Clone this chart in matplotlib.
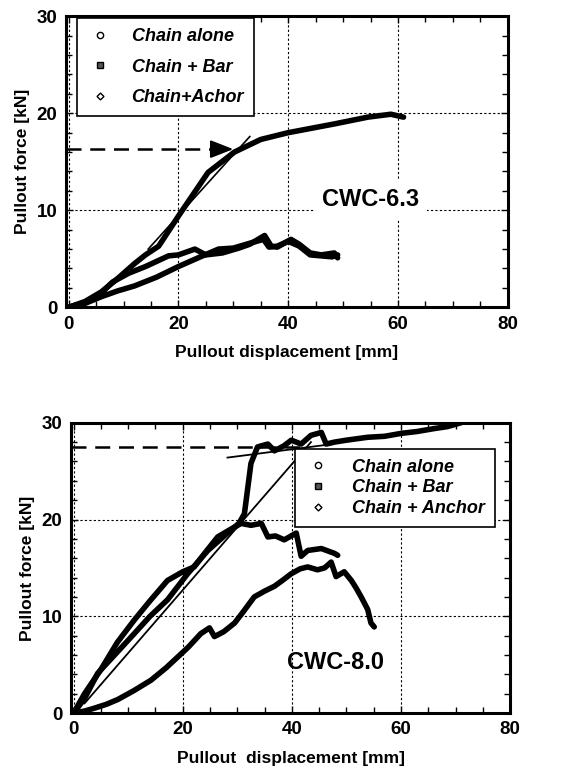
import numpy as np
import matplotlib.pyplot as plt
from matplotlib.lines import Line2D
from matplotlib.ticker import MultipleLocator

plt.rcParams['font.family'] = ['Liberation Sans', 'DejaVu Sans']
plt.rcParams['font.weight'] = 'bold'

# ---- CWC-6.3 (top panel) ----
top_anchor_x = [0, 3, 6, 9, 12, 14, 16.4, 20, 25.4, 30.2, 35, 40, 48.4, 54.5, 58.7, 61]
top_anchor_y = [0, 0.6, 1.6, 3.0, 4.5, 5.4, 6.3, 9.4, 13.9, 16.0, 17.3, 18.0, 18.9, 19.6, 19.9, 19.6]
top_bar_x = [0, 3, 6, 8, 10.9, 14, 18.2, 20, 23, 25, 28, 31, 33, 35.7, 36.9, 38, 40.5, 42, 44, 46, 48.4, 49]
top_bar_y = [0, 0.5, 1.5, 2.6, 3.5, 4.2, 5.3, 5.4, 6.0, 5.4, 5.6, 6.1, 6.5, 7.4, 6.3, 6.2, 7.0, 6.5, 5.6, 5.4, 5.6, 5.1]
top_alone_x = [0, 3, 6, 9, 12, 16, 20, 24, 27.3, 30, 33, 35.5, 36.5, 38, 40, 42, 44, 46, 48, 49]
top_alone_y = [0, 0.4, 1.1, 1.7, 2.2, 3.1, 4.2, 5.2, 6.0, 6.1, 6.6, 7.0, 6.2, 6.3, 6.8, 6.3, 5.4, 5.3, 5.2, 5.4]
top_arrow_y = 16.3
top_arrow_x = 30.5
top_tangent_x = [14.5, 33]
top_tangent_y = [6.0, 17.6]

# ---- CWC-8.0 (bottom panel) ----
bot_anchor_x = [0, 2, 4.4, 8, 11.1, 14, 17.2, 20.9, 24.6, 28.2, 30.3, 31.3, 32.5, 33.7, 35.6, 36.8, 38.5,
                39.9, 41.7, 43.5, 45.4, 46.3, 47.8, 50, 53.9, 57, 60, 63, 66.1, 68.5, 71]
bot_anchor_y = [0, 1.5, 4.1, 6.3, 8.2, 10.0, 11.7, 14.4, 16.8, 18.6, 19.6, 20.6, 25.8, 27.5, 27.8, 27.1, 27.6,
                28.2, 27.8, 28.7, 29.0, 27.8, 28.0, 28.2, 28.5, 28.6, 28.9, 29.1, 29.4, 29.6, 30.0]
bot_bar_x = [0, 2, 5, 8, 11.1, 14, 17.2, 20, 22.1, 24, 26.4, 28.5, 30.7, 32.5, 34.4, 35.6, 37, 38.6, 40.8,
             41.7, 42.9, 45.4, 47.8, 48.4]
bot_bar_y = [0, 2.0, 4.5, 7.3, 9.6, 11.6, 13.7, 14.6, 15.1, 16.5, 18.2, 18.9, 19.6, 19.4, 19.6, 18.2, 18.3,
             17.9, 18.6, 16.2, 16.8, 17.0, 16.5, 16.3]
bot_alone_x = [0, 2, 3.8, 6, 8.1, 11, 14.2, 17, 19.1, 21, 23.3, 24.9, 25.8, 27.5, 29.5, 31, 33.1, 35, 36.8,
               38.5, 39.9, 41.5, 42.9, 44.7, 46, 47.2, 48.1, 49.6, 50.9, 51.8, 52.7, 53.9, 54.5, 55.1]
bot_alone_y = [0, 0.2, 0.5, 0.9, 1.4, 2.3, 3.4, 4.7, 5.8, 6.8, 8.2, 8.8, 7.9, 8.4, 9.3, 10.4, 12.0, 12.6, 13.1,
               13.8, 14.4, 14.9, 15.1, 14.8, 15.0, 15.6, 14.1, 14.6, 13.7, 12.9, 12.0, 10.7, 9.3, 8.9]
bot_dash_y = 27.5
bot_dash_x = 43
bot_tangent1_x = [2, 43.5]
bot_tangent1_y = [1.0, 28.0]
bot_tangent2_x = [28.2, 47.5]
bot_tangent2_y = [26.4, 27.8]

fig = plt.figure(figsize=(5.63, 7.74), dpi=100)
ax1 = fig.add_axes([0.117, 0.603, 0.785, 0.376])
ax2 = fig.add_axes([0.126, 0.0788, 0.780, 0.375])


def style_axes(ax, xlabel):
    ax.set_xlim(-0.5, 80)
    ax.set_ylim(0, 30)
    ax.xaxis.set_major_locator(MultipleLocator(20))
    ax.xaxis.set_minor_locator(MultipleLocator(5))
    ax.yaxis.set_major_locator(MultipleLocator(10))
    ax.yaxis.set_minor_locator(MultipleLocator(2))
    ax.tick_params(which='both', direction='in', top=True, right=True, width=1)
    ax.tick_params(which='major', length=5, labelsize=13.5, pad=6)
    ax.tick_params(which='minor', length=4)
    for sp in ax.spines.values():
        sp.set_linewidth(2.2)
    ax.grid(True, which='major', color='black', linestyle=(0, (2, 2)), linewidth=0.8)
    ax.set_axisbelow(True)
    ax.set_xlabel(xlabel, fontsize=12.5, fontweight='bold', labelpad=9)
    ax.set_ylabel('Pullout force [kN]', fontsize=12.5, fontweight='bold', labelpad=5)


def curve(ax, x, y):
    ax.plot(x, y, color='black', lw=4, solid_capstyle='round', solid_joinstyle='round', zorder=3)


def handles(labels):
    mk = [dict(marker='o', mfc='white'), dict(marker='s', mfc='#555555'), dict(marker='D', mfc='white', markersize=3.5)]
    out = []
    for lab, m in zip(labels, mk):
        kw = dict(markersize=4.5, mec='black', mew=1)
        kw.update(m)
        out.append(Line2D([], [], linestyle='none', color='black', label=lab, **kw))
    return out


# top panel
style_axes(ax1, 'Pullout displacement [mm]')
curve(ax1, top_alone_x, top_alone_y)
curve(ax1, top_bar_x, top_bar_y)
curve(ax1, top_anchor_x, top_anchor_y)
ax1.plot(top_tangent_x, top_tangent_y, color='black', lw=1.2, zorder=4)
ax1.plot([-0.5, top_arrow_x - 3.5], [top_arrow_y, top_arrow_y], color='black', lw=1.8,
         linestyle=(0, (6, 3.5)), zorder=4)
ax1.annotate('', xy=(top_arrow_x, top_arrow_y), xytext=(top_arrow_x - 4, top_arrow_y),
             arrowprops=dict(arrowstyle='-|>,head_length=1.4,head_width=0.55', color='black', lw=1.5),
             zorder=5)
ax1.text(55, 11.1, 'CWC-6.3', fontsize=17, fontweight='bold', ha='center', va='center',
         bbox=dict(facecolor='white', edgecolor='none', pad=6), zorder=2)
leg1 = ax1.legend(handles=handles(['Chain alone', 'Chain + Bar', 'Chain+Achor']), loc='upper left',
                  bbox_to_anchor=(0.02, 1.0), prop=dict(style='italic', weight='bold', size=13),
                  frameon=True, fancybox=False, framealpha=1, edgecolor='black', handletextpad=1.0,
                  labelspacing=0.75, borderpad=0.55, handlelength=1.5, borderaxespad=0.1)
leg1.get_frame().set_linewidth(1.2)

# bottom panel
style_axes(ax2, 'Pullout  displacement [mm]')
curve(ax2, bot_alone_x, bot_alone_y)
curve(ax2, bot_bar_x, bot_bar_y)
curve(ax2, bot_anchor_x, bot_anchor_y)
ax2.plot(bot_tangent1_x, bot_tangent1_y, color='black', lw=1.3, zorder=4)
ax2.plot(bot_tangent2_x, bot_tangent2_y, color='black', lw=1.3, zorder=4)
ax2.plot([-0.5, bot_dash_x], [bot_dash_y, bot_dash_y], color='black', lw=1.8,
         linestyle=(0, (6, 3.5)), zorder=4)
ax2.text(48, 5.2, 'CWC-8.0', fontsize=17, fontweight='bold', ha='center', va='center', zorder=2)
leg2 = ax2.legend(handles=handles(['Chain alone', 'Chain + Bar', 'Chain + Anchor']), loc='upper left',
                  bbox_to_anchor=(0.51, 0.91), prop=dict(style='italic', weight='bold', size=13),
                  frameon=True, fancybox=False, framealpha=1, edgecolor='black', handletextpad=1.1,
                  labelspacing=0.2, borderpad=0.55, handlelength=1.5, borderaxespad=0)
leg2.get_frame().set_linewidth(1.2)
leg2.set_zorder(6)

fig.savefig('out.png', dpi=100)
